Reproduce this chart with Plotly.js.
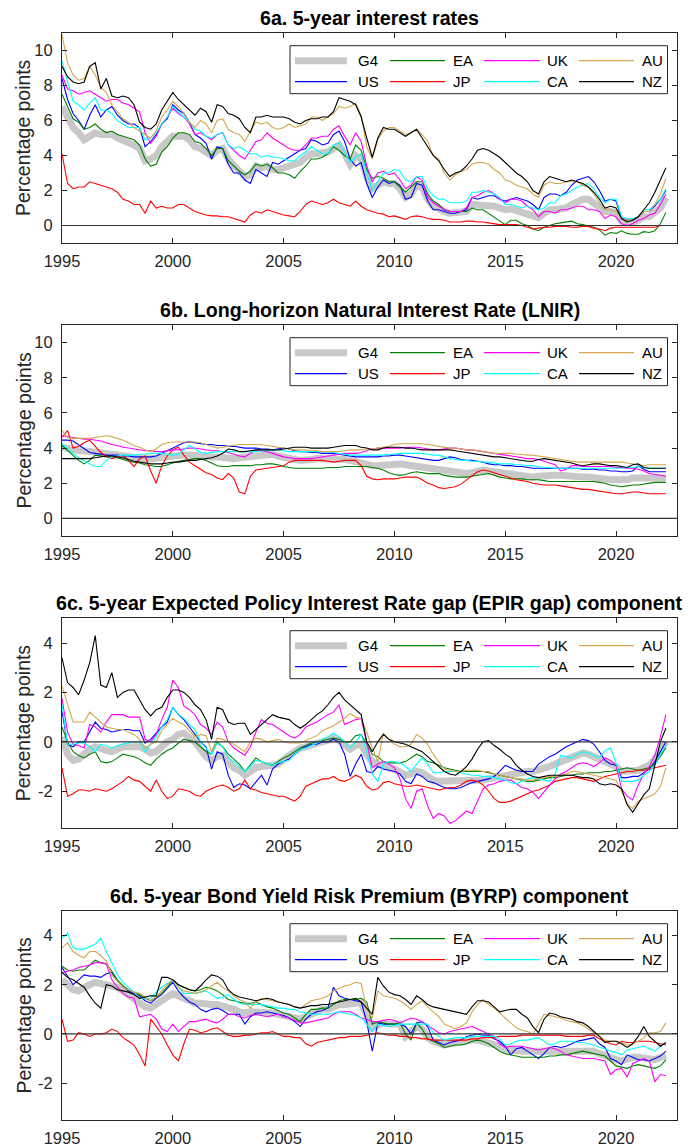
<!DOCTYPE html>
<html><head><meta charset="utf-8">
<script src="https://cdn.plot.ly/plotly-3.0.1.min.js"></script>
<style>html,body{margin:0;padding:0;background:#fff}#chart{width:688px;height:1146px}</style>
</head><body><div id="chart"></div>
<script>
// Quarterly observations starting 1995Q1
const startYear = 1995;
const seriesNames = ['G4','US','EA','JP','UK','CA','AU','NZ'];
const legendRows = [['G4','EA','UK','AU'],['US','JP','CA','NZ']];
const panelTitles = ['6a. 5-year interest rates','6b. Long-horizon Natural Interest Rate (LNIR)','6c. 5-year Expected Policy Interest Rate gap (EPIR gap) component','6d. 5-year Bond Yield Risk Premium (BYRP) component'];
const yTickA = [0,2,4,6,8,10];
const yTickC = [-2,0,2,4];
const xTicks = [1995,2000,2005,2010,2015,2020];

// ---- 6a. 5-year interest rates ----
const a_G4 = [6.8,6.2,5.6,5.3, 4.9,5.1,5.3,5.2, 5.2,5.2,5.0,4.9, 4.7,4.6,4.4,3.7, 3.8,4.0,4.5,4.8, 5.1,5.1,5.1,4.9, 4.5,4.4,4.2,4.0, 4.3,4.4,3.8,3.4, 3.1,2.8,2.9,3.4, 3.3,3.4,3.2,3.2, 3.3,3.3,3.4,3.6, 3.9,4.1,4.1,4.1, 4.2,4.4,4.6,4.1, 3.5,4.0,3.8,2.8, 2.1,2.3,2.5,2.4, 2.4,2.1,1.6,1.8, 2.3,2.2,1.5,1.1, 0.9,0.8,0.7,0.7, 0.7,0.8,1.2,1.2, 1.2,1.2,1.1,1.0, 0.9,0.95,0.9,0.75, 0.65,0.55,0.45,0.7, 0.9,0.9,0.95,1.0, 1.2,1.4,1.5,1.5, 1.3,1.0,0.8,0.8, 0.7,0.25,0.2,0.2, 0.3,0.5,0.5,0.7, 1.0,1.6];
const a_US = [8.4,7.2,6.4,6.0, 5.5,6.3,6.9,6.2, 6.6,6.8,6.3,6.0, 5.8,5.8,5.6,4.5, 4.8,5.2,5.8,6.1, 6.9,6.6,6.4,5.9, 5.2,5.0,4.7,3.8, 4.5,4.4,3.5,3.0, 3.0,2.6,2.4,3.2, 3.0,2.8,3.6,3.5, 3.7,3.9,4.1,4.3, 4.4,4.9,4.8,4.6, 4.7,5.2,5.4,4.8, 3.8,3.4,3.6,2.4, 1.6,2.2,2.6,2.4, 2.5,2.3,1.5,1.6, 2.4,2.3,1.4,0.9, 0.9,0.8,0.7,0.7, 0.8,0.9,1.6,1.5, 1.6,1.7,1.7,1.5, 1.4,1.5,1.6,1.5, 1.4,1.2,0.9,1.6, 1.8,1.8,1.7,1.9, 2.3,2.6,2.7,2.8, 2.5,2.0,1.4,1.5, 1.4,0.4,0.3,0.3, 0.5,0.8,0.8,1.1, 1.5,2.0];
const a_EA = [7.5,6.8,6.1,5.9, 5.5,5.6,5.8,5.5, 5.3,5.4,5.2,5.1, 5.0,4.9,4.6,3.8, 3.4,3.5,4.2,4.5, 5.0,5.3,5.3,5.2, 4.8,4.7,4.4,4.0, 4.4,4.4,3.7,3.4, 3.1,2.9,3.1,3.5, 3.4,3.5,3.3,3.0, 3.0,2.9,2.7,3.1, 3.4,3.8,3.8,3.9, 4.1,4.5,4.3,4.0, 3.8,4.6,4.3,3.2, 2.7,2.8,2.7,2.5, 2.5,2.2,1.9,2.2, 2.5,2.5,1.8,1.4, 1.2,0.9,0.8,0.8, 0.8,0.8,1.0,0.9, 0.9,0.7,0.45,0.3, 0.05,0.3,0.3,0.1, 0.0,-0.2,-0.3,-0.1, 0.0,0.1,0.15,0.2, 0.25,0.1,0.05,-0.05, -0.1,-0.25,-0.55,-0.4, -0.45,-0.3,-0.45,-0.5, -0.5,-0.35,-0.4,-0.3, 0.1,0.75];
const a_JP = [4.1,2.4,2.1,2.2, 2.2,2.5,2.4,2.3, 2.2,2.1,1.9,1.5, 1.4,1.2,1.2,0.7, 1.4,1.0,1.1,1.0, 1.0,1.2,1.2,1.0, 0.8,0.7,0.6,0.55, 0.55,0.5,0.5,0.4, 0.3,0.2,0.6,0.8, 0.7,0.9,0.8,0.7, 0.6,0.55,0.5,0.8, 1.2,1.4,1.3,1.2, 1.3,1.5,1.3,1.2, 1.1,1.4,1.1,0.9, 0.8,0.7,0.65,0.5, 0.55,0.45,0.35,0.5, 0.55,0.5,0.4,0.35, 0.35,0.3,0.2,0.2, 0.2,0.25,0.25,0.2, 0.2,0.15,0.1,0.05, 0.05,0.05,0.05,0.0, -0.1,-0.2,-0.15,-0.1, -0.1,-0.05,-0.05,-0.05, -0.1,-0.1,-0.05,-0.05, -0.15,-0.2,-0.3,-0.15, -0.1,-0.1,-0.1,-0.1, -0.1,-0.1,-0.1,-0.1, 0.0,0.0];
const a_UK = [8.6,7.8,7.7,7.5, 7.6,7.7,7.5,7.3, 7.1,7.2,7.2,7.0, 6.9,6.7,6.5,5.3, 4.7,5.1,5.8,6.2, 6.7,6.4,6.2,5.8, 5.2,5.3,5.1,4.9, 5.2,5.3,4.6,4.3, 4.0,3.8,4.3,4.8, 4.9,5.3,5.0,4.8, 4.6,4.4,4.3,4.3, 4.6,5.0,5.0,5.1, 5.1,5.5,5.7,5.1, 4.6,5.3,4.8,3.4, 2.5,3.0,3.1,2.9, 3.0,2.6,2.1,2.3, 2.8,2.6,1.6,1.3, 1.1,0.9,0.8,0.8, 0.8,1.0,1.6,1.7, 1.9,2.0,1.8,1.5, 1.3,1.5,1.5,1.4, 1.1,0.9,0.5,0.8, 0.8,0.7,0.9,0.9, 1.0,1.1,1.1,0.9, 0.9,0.8,0.4,0.6, 0.5,0.1,0.0,0.1, 0.3,0.4,0.6,0.7, 1.2,1.8];
const a_CA = [9.4,8.2,7.1,6.9, 6.6,7.0,7.3,6.6, 6.6,6.4,6.0,5.8, 5.6,5.6,5.6,4.9, 5.0,5.3,5.8,6.2, 6.8,6.5,6.2,5.9, 5.5,5.4,5.1,5.0, 5.2,5.3,4.6,4.4, 4.5,4.3,4.1,4.1, 3.9,4.0,3.9,3.9, 3.8,3.7,3.7,4.0, 4.2,4.5,4.3,4.1, 4.1,4.6,4.7,4.2, 3.6,3.9,4.1,3.0, 2.0,2.5,3.0,3.0, 3.2,3.1,2.6,2.5, 2.8,2.8,2.1,1.7, 1.5,1.5,1.3,1.3, 1.3,1.4,1.9,1.9, 2.0,1.9,1.8,1.6, 1.2,1.2,1.1,1.0, 1.1,1.0,0.9,1.0, 1.3,1.3,1.7,1.8, 2.0,2.2,2.3,2.4, 2.1,1.6,1.3,1.5, 1.5,0.5,0.4,0.4, 0.5,0.9,0.9,1.2, 1.5,2.1];
const a_AU = [10.9,9.3,8.6,8.3, 8.4,9.1,8.6,7.9, 7.6,6.9,6.5,6.1, 5.9,5.6,5.4,5.2, 5.0,5.4,6.2,6.6, 7.1,6.8,6.4,5.9, 5.6,6.0,5.8,5.3, 6.0,6.1,5.5,5.3, 5.2,4.8,5.4,5.9, 5.8,5.9,5.6,5.5, 5.6,5.8,5.6,5.7, 5.8,6.2,6.2,6.0, 6.2,6.4,6.8,6.7, 6.8,7.0,6.3,4.5, 3.8,4.9,5.4,5.6, 5.6,5.4,5.2,5.3, 5.5,5.2,4.8,4.0, 3.8,3.0,2.6,2.9, 3.1,3.2,3.5,3.6, 3.6,3.5,3.2,3.0, 2.6,2.5,2.3,2.2, 2.1,1.8,1.6,2.3, 2.5,2.4,2.4,2.5, 2.5,2.5,2.3,2.2, 1.8,1.3,0.9,0.9, 0.8,0.4,0.3,0.3, 0.5,0.8,0.8,1.2, 1.8,2.7];
const a_NZ = [9.1,8.5,8.2,8.1, 8.2,9.1,9.3,7.8, 8.4,7.4,7.3,7.4, 7.3,6.9,5.9,5.6, 5.5,5.8,6.6,7.1, 7.6,7.2,6.9,6.6, 6.3,6.7,6.5,5.9, 6.9,6.8,6.4,6.3, 6.1,5.6,5.3,6.2, 6.2,6.3,6.2,6.2, 6.2,6.1,5.9,5.8, 6.0,6.1,6.1,6.2, 6.2,6.5,7.3,7.2, 7.1,6.9,6.2,5.0, 3.9,5.0,5.6,5.5, 5.5,5.3,5.1,5.3, 5.5,5.0,4.5,4.0, 3.7,3.2,2.8,3.0, 3.1,3.4,3.8,4.3, 4.4,4.3,4.1,3.9, 3.6,3.3,3.0,2.8, 2.5,2.0,1.8,2.5, 2.8,2.7,2.6,2.5, 2.6,2.5,2.4,2.2, 1.9,1.5,1.0,1.1, 1.0,0.4,0.2,0.3, 0.5,0.9,1.3,1.9, 2.6,3.3];

// ---- 6b. LNIR ----
const b_G4 = [4.05,3.95,3.9,3.85, 3.85,3.8,3.75,3.7, 3.65,3.6,3.6,3.55, 3.5,3.45,3.45,3.4, 3.4,3.45,3.5,3.5, 3.55,3.6,3.6,3.6, 3.55,3.5,3.5,3.5, 3.5,3.45,3.4,3.4, 3.45,3.5,3.55,3.6, 3.65,3.7,3.65,3.55, 3.45,3.4,3.35,3.3, 3.3,3.35,3.4,3.4, 3.4,3.4,3.4,3.35, 3.3,3.2,3.1,3.05, 3.0,3.0,3.05,3.1, 3.1,3.1,3.05,3.0, 2.95,2.9,2.85,2.85, 2.8,2.75,2.7,2.65, 2.6,2.55,2.6,2.7, 2.75,2.7,2.65,2.6, 2.55,2.5,2.45,2.4, 2.35,2.35,2.4,2.45, 2.45,2.45,2.45,2.4, 2.4,2.4,2.35,2.35, 2.35,2.3,2.25,2.2, 2.2,2.15,2.2,2.3, 2.35,2.3,2.3,2.3, 2.3,2.3];
const b_US = [4.45,4.45,4.4,4.2, 3.95,3.75,3.7,3.65, 3.6,3.6,3.6,3.55, 3.55,3.5,3.5,3.5, 3.5,3.55,3.7,3.85, 4.0,4.15,4.3,4.35, 4.3,4.25,4.2,4.2, 4.15,4.15,4.1,4.1, 4.05,4.0,4.0,4.0, 3.95,3.95,3.9,3.95, 4.0,3.95,3.85,3.8, 3.8,3.75,3.75,3.7, 3.7,3.7,3.65,3.6, 3.55,3.5,3.5,3.5, 3.5,3.5,3.55,3.55, 3.6,3.6,3.55,3.5, 3.45,3.4,3.35,3.3, 3.3,3.4,3.5,3.45, 3.35,3.3,3.3,3.25, 3.2,3.1,3.05,3.05, 3.0,3.0,2.95,2.95, 2.9,2.85,2.85,2.85, 2.85,2.85,2.85,2.85, 2.85,2.85,2.8,2.8, 2.8,2.75,2.75,2.7, 2.7,2.65,2.65,2.7, 3.0,2.8,2.65,2.65, 2.65,2.65];
const b_EA = [4.15,3.85,3.55,3.3, 3.1,3.3,3.6,3.55, 3.5,3.5,3.45,3.35, 3.25,3.2,3.15,3.05, 3.0,2.95,2.95,3.05, 3.15,3.25,3.3,3.35, 3.4,3.4,3.3,3.15, 3.0,2.95,2.95,3.0, 3.0,3.0,3.0,3.05, 3.05,3.1,3.1,3.05, 2.95,2.9,2.85,2.85, 2.85,2.85,2.85,2.85, 2.9,2.9,2.9,2.95, 2.95,2.95,2.95,2.95, 2.9,2.85,2.75,2.6, 2.5,2.45,2.5,2.6, 2.65,2.6,2.55,2.55, 2.55,2.45,2.4,2.35, 2.35,2.35,2.4,2.45, 2.5,2.55,2.45,2.35, 2.3,2.25,2.25,2.25, 2.2,2.2,2.2,2.15, 2.1,2.1,2.1,2.1, 2.1,2.1,2.1,2.1, 2.1,2.05,2.0,1.9, 1.85,1.8,1.85,1.9, 1.9,1.95,2.0,2.05, 2.05,2.05];
const b_JP = [4.6,5.0,4.0,4.1, 4.3,4.45,4.1,3.75, 3.55,3.4,3.5,3.6, 3.3,2.95,3.4,3.55, 2.7,2.0,3.0,3.55, 3.9,4.05,3.6,3.2, 3.0,2.8,2.6,2.5, 2.3,2.2,2.55,2.3, 1.5,1.4,2.4,2.75, 2.8,2.85,2.9,2.95, 3.0,3.2,3.3,3.3, 3.3,3.3,3.3,3.3, 3.25,3.2,3.25,3.3, 3.3,3.3,3.0,2.4, 2.25,2.2,2.25,2.25, 2.25,2.3,2.35,2.35, 2.35,2.2,2.0,1.9, 1.75,1.7,1.75,1.8, 1.95,2.2,2.45,2.65, 2.75,2.7,2.6,2.5, 2.4,2.3,2.2,2.15, 2.1,2.0,1.95,1.9, 1.9,1.9,1.85,1.8, 1.75,1.7,1.65,1.65, 1.6,1.55,1.5,1.45, 1.4,1.4,1.45,1.5, 1.5,1.45,1.4,1.4, 1.4,1.4];
const b_UK = [4.7,4.65,4.6,4.55, 4.5,4.5,4.45,4.4, 4.3,4.2,4.15,4.05, 4.0,3.95,3.9,3.85, 3.85,3.8,3.8,3.85, 3.9,3.9,3.95,4.0, 4.0,3.95,3.9,3.85, 3.85,3.8,3.75,3.65, 3.55,3.5,3.7,3.9, 3.85,3.8,3.7,3.6, 3.5,3.45,3.4,3.4, 3.4,3.4,3.45,3.5, 3.55,3.6,3.65,3.7, 3.7,3.7,3.75,3.85, 3.95,4.0,4.0,4.0, 4.0,4.0,4.05,4.05, 4.05,4.0,3.95,3.9, 3.9,3.95,4.0,4.0, 3.95,3.9,3.9,3.85, 3.8,3.75,3.7,3.65, 3.6,3.55,3.5,3.45, 3.4,3.4,3.35,3.25, 3.15,3.05,2.7,2.8, 3.0,3.0,2.95,2.95, 2.95,2.95,2.95,2.95, 2.9,2.9,2.85,2.85, 2.8,2.7,2.55,2.5, 2.45,2.4];
const b_CA = [4.25,3.95,3.7,3.45, 3.25,3.1,2.95,2.95, 3.3,3.5,3.55,3.6, 3.6,3.6,3.65,3.65, 3.7,3.7,3.7,3.65, 3.6,3.65,3.9,4.15, 3.95,3.75,3.7,3.75, 3.8,3.8,3.8,3.8, 3.8,3.8,3.8,3.8, 3.85,3.85,3.9,3.9, 3.85,3.8,3.8,3.8, 3.8,3.8,3.8,3.8, 3.8,3.75,3.7,3.65, 3.6,3.6,3.6,3.6, 3.6,3.6,3.6,3.65, 3.65,3.7,3.7,3.7, 3.7,3.7,3.65,3.6, 3.6,3.5,3.4,3.35, 3.3,3.3,3.25,3.25, 3.2,3.2,3.15,3.1, 3.1,3.1,3.05,3.05, 3.0,3.0,2.95,2.9, 2.9,2.85,2.85,2.85, 2.85,2.85,2.85,2.85, 2.85,2.85,2.85,2.85, 2.85,2.85,2.9,2.9, 2.95,2.9,2.85,2.85, 2.85,2.85];
const b_AU = [5.0,4.6,4.55,4.55, 4.55,4.55,4.6,4.65, 4.7,4.65,4.55,4.45, 4.3,4.15,4.05,3.9, 3.8,3.95,4.2,4.3, 4.35,4.35,4.35,4.35, 4.35,4.3,4.2,4.1, 4.0,4.05,4.1,4.15, 4.2,4.2,4.2,4.2, 4.2,4.15,4.1,4.05, 4.0,3.95,3.9,3.9, 3.9,3.85,3.85,3.8, 3.8,3.8,3.8,3.85, 3.9,3.9,3.9,3.95, 3.95,4.0,4.05,4.1, 4.2,4.25,4.25,4.25, 4.25,4.25,4.2,4.15, 4.1,4.05,4.0,4.0, 3.95,3.9,3.9,3.85, 3.8,3.75,3.7,3.7, 3.7,3.7,3.65,3.65, 3.6,3.6,3.55,3.5, 3.45,3.4,3.35,3.3, 3.25,3.2,3.2,3.2, 3.2,3.2,3.2,3.2, 3.2,3.2,3.15,3.1, 3.05,3.0,3.05,3.05, 3.05,3.05];
const b_NZ = [3.4,3.4,3.4,3.4, 3.4,3.4,3.45,3.5, 3.55,3.55,3.5,3.45, 3.35,3.25,3.2,3.15, 3.1,3.1,3.1,3.15, 3.2,3.2,3.25,3.3, 3.3,3.35,3.4,3.45, 3.55,3.7,3.95,3.9, 3.8,3.8,3.85,3.9, 3.9,3.9,3.9,3.9, 3.95,4.0,4.05,4.05, 4.05,4.0,4.0,4.0, 4.0,4.05,4.1,4.15, 4.15,4.15,4.05,4.0, 3.9,3.9,4.0,4.05, 4.05,4.05,4.0,4.0, 3.95,3.9,3.9,3.9, 3.9,3.9,3.9,3.85, 3.8,3.75,3.7,3.65, 3.6,3.55,3.5,3.5, 3.45,3.4,3.35,3.3, 3.25,3.25,3.35,3.4, 3.35,3.3,3.25,3.2, 3.15,3.05,3.0,3.05, 3.1,3.1,3.05,3.0, 3.0,2.95,2.9,3.05, 3.1,2.9,2.85,2.85, 2.85,2.85];

// ---- 6c. EPIR gap component ----
const c_G4 = [0.2,-0.5,-0.75,-0.7, -0.5,-0.3,-0.2,-0.3, -0.35,-0.4,-0.3,-0.2, -0.2,-0.2,-0.2,-0.3, -0.45,-0.4,-0.15,0.0, 0.1,0.3,0.35,0.2, 0.0,-0.3,-0.6,-0.75, -0.6,-0.55,-0.8,-1.05, -1.15,-1.35,-1.2,-1.05, -1.0,-1.0,-0.95,-0.9, -0.7,-0.55,-0.4,-0.25, -0.2,-0.1,-0.05,0.0, 0.1,0.15,0.05,-0.1, -0.3,-0.15,-0.1,-0.5, -0.8,-0.9,-1.0,-1.05, -1.1,-1.2,-1.35,-1.3, -1.2,-1.25,-1.4,-1.55, -1.6,-1.6,-1.6,-1.6, -1.6,-1.55,-1.55,-1.55, -1.55,-1.5,-1.45,-1.4, -1.35,-1.35,-1.3,-1.25, -1.2,-1.2,-1.15,-1.05, -1.0,-0.9,-0.8,-0.7, -0.6,-0.5,-0.45,-0.5, -0.6,-0.7,-0.85,-0.95, -1.0,-1.2,-1.2,-1.15, -1.15,-1.05,-0.95,-0.7, -0.35,0.0];
const c_US = [1.25,-0.1,-0.2,0.0, 0.0,0.4,0.8,0.55, 0.5,0.4,0.45,0.5, 0.5,0.45,0.45,-0.05, 0.1,0.35,0.6,0.8, 1.4,1.1,0.9,0.6, 0.3,0.0,-0.2,-1.1, -0.4,-0.5,-1.35,-1.85, -1.7,-1.75,-1.9,-1.6, -1.35,-1.75,-1.1,-0.9, -0.8,-0.7,-0.5,-0.3, -0.2,-0.1,-0.1,0.0, 0.0,0.1,0.0,-0.5, -1.4,-0.9,-0.5,-1.2, -1.25,-1.0,-1.1,-1.15, -1.2,-1.3,-1.6,-1.7, -1.3,-1.4,-1.6,-1.65, -1.75,-1.85,-1.9,-1.9, -1.85,-1.75,-1.65,-1.6, -1.55,-1.5,-1.4,-1.2, -0.95,-1.05,-1.15,-1.2, -1.2,-1.2,-0.9,-0.75, -0.6,-0.5,-0.35,-0.2, -0.1,0.0,0.1,0.05, -0.1,-0.4,-0.75,-0.9, -0.95,-1.45,-1.45,-1.4, -1.4,-1.25,-1.1,-0.8, -0.4,0.0];
const c_EA = [0.6,0.0,-0.4,-0.55, -0.65,-0.5,-0.4,-0.8, -0.85,-0.8,-0.65,-0.5, -0.55,-0.6,-0.7,-0.85, -0.95,-0.7,-0.5,-0.35, -0.25,-0.05,0.1,0.05, 0.0,-0.2,-0.4,-0.5, 0.0,-0.2,-0.5,-0.7, -0.9,-1.2,-0.9,-0.65, -0.8,-0.9,-0.95,-0.8, -0.65,-0.55,-0.4,-0.25, -0.15,-0.05,0.0,0.05, 0.1,0.15,0.1,0.0, 0.0,0.25,0.3,-0.1, -0.5,-0.6,-0.8,-0.85, -0.85,-0.85,-0.8,-0.65, -0.5,-0.6,-0.8,-0.85, -0.95,-1.05,-1.1,-1.15, -1.2,-1.2,-1.2,-1.2, -1.2,-1.25,-1.3,-1.35, -1.4,-1.45,-1.5,-1.55, -1.6,-1.6,-1.55,-1.5, -1.45,-1.45,-1.4,-1.35, -1.35,-1.3,-1.3,-1.25, -1.25,-1.25,-1.2,-1.2, -1.15,-1.1,-1.05,-1.1, -1.15,-1.1,-1.05,-0.9, -0.6,-0.25];
const c_JP = [-1.05,-2.2,-2.1,-1.95, -1.95,-2.0,-1.9,-1.95, -2.0,-1.9,-1.75,-1.6, -1.4,-1.55,-1.6,-1.8, -2.0,-1.55,-2.0,-2.3, -2.2,-1.9,-1.95,-2.0, -2.15,-2.2,-2.0,-1.9, -1.8,-1.75,-1.85,-2.0, -1.9,-1.55,-1.9,-1.95, -2.05,-2.1,-2.15,-2.2, -2.2,-2.3,-2.4,-2.2, -1.8,-1.7,-1.6,-1.5, -1.5,-1.4,-1.55,-1.6, -1.5,-1.35,-1.45,-1.8, -1.95,-1.9,-1.65,-1.6, -1.7,-1.75,-1.8,-1.8, -1.75,-1.8,-1.85,-1.9, -1.95,-1.9,-1.85,-1.85, -1.75,-1.6,-1.55,-1.6, -1.75,-2.0,-2.3,-2.45, -2.45,-2.4,-2.3,-2.2, -2.1,-2.0,-1.95,-1.85, -1.75,-1.6,-1.55,-1.5, -1.45,-1.45,-1.5,-1.55, -1.6,-1.5,-1.4,-1.35, -1.3,-1.25,-1.2,-1.2, -1.15,-1.15,-1.1,-1.05, -1.0,-0.95];
const c_UK = [1.75,0.4,-0.1,-0.15, -0.25,0.7,0.6,0.4, 0.8,1.1,1.1,1.1, 1.0,1.0,1.0,0.1, 0.0,0.3,0.9,1.4, 2.5,2.2,1.45,1.3, 1.1,0.7,0.55,0.3, 0.8,0.6,0.0,-0.25, -0.4,-0.55,-0.2,0.4, 0.9,0.75,0.7,0.55, 0.4,0.25,0.15,0.3, 0.6,0.7,0.8,0.95, 1.1,1.2,1.5,0.7, 0.8,0.9,0.95,0.0, -1.05,-0.9,-0.8,-0.9, -1.05,-1.5,-2.3,-2.7, -2.0,-1.9,-2.6,-3.1, -2.9,-3.0,-3.3,-3.2, -3.0,-2.8,-2.9,-2.4, -1.9,-1.75,-1.7,-1.6, -1.55,-1.55,-1.7,-1.85, -1.9,-2.05,-2.3,-2.0, -1.75,-1.5,-1.3,-1.2, -1.05,-0.9,-0.85,-0.9, -1.0,-0.85,-0.65,-0.75, -0.95,-1.9,-2.2,-2.35, -1.75,-1.3,-1.0,-0.55, 0.2,1.1];
const c_CA = [1.5,-0.1,-0.1,-0.05, -0.05,-0.2,-0.4,-0.1, -0.15,-0.25,-0.15,-0.1, -0.05,0.0,0.0,-0.4, -0.1,0.2,0.6,0.9, 1.4,1.1,0.95,0.7, 0.5,0.0,-0.25,-0.5, -0.05,-0.2,-0.65,-0.8, -1.0,-1.2,-1.0,-0.75, -0.8,-0.9,-0.95,-0.85, -0.8,-0.75,-0.5,-0.3, -0.25,-0.15,-0.05,0.1, 0.2,0.35,0.2,0.0, -0.25,0.0,0.3,-0.4, -1.3,-1.6,-0.9,-0.8, -0.8,-0.85,-1.0,-1.2, -0.9,-0.65,-0.9,-1.25, -1.25,-1.2,-1.2,-1.2, -1.25,-1.3,-1.35,-1.35, -1.4,-1.4,-1.45,-1.5, -1.55,-1.65,-1.7,-1.6, -1.5,-1.45,-1.5,-1.55, -1.6,-1.3,-0.55,-0.6, -0.65,-0.5,-0.4,-0.45, -0.55,-0.65,-0.35,-0.25, -0.85,-1.6,-1.6,-1.6, -1.55,-1.35,-1.2,-0.95, -0.5,-0.1];
const c_AU = [2.25,1.5,0.8,0.8, 0.8,1.2,1.0,0.8, 0.6,0.55,0.5,0.5, 0.4,0.3,0.1,-0.25, -0.1,0.0,0.45,0.7, 0.95,0.8,0.7,0.45, 0.2,0.3,0.25,-0.4, 0.15,0.1,0.0,-0.1, -0.25,-0.4,0.0,0.15, 0.1,0.0,0.05,0.1, 0.0,-0.05,-0.05,-0.05, 0.05,0.15,0.25,0.45, 0.55,0.65,0.8,0.95, 1.15,1.0,0.95,0.4, -0.25,-0.8,0.35,0.1, -0.1,-0.2,-0.2,-0.1, 0.3,0.15,-0.1,-0.5, -0.8,-1.1,-1.15,-1.2, -1.2,-1.15,-1.15,-1.15, -1.2,-1.2,-1.3,-1.35, -1.4,-1.45,-1.5,-1.5, -1.55,-1.55,-1.5,-1.45, -1.4,-1.4,-1.35,-1.3, -1.2,-1.2,-1.25,-1.3, -1.35,-1.4,-1.45,-1.5, -1.55,-2.0,-2.5,-2.7, -2.4,-2.3,-2.2,-2.1, -1.8,-1.05];
const c_NZ = [3.4,2.4,2.2,1.9, 2.5,3.2,4.3,2.3, 2.2,2.8,1.8,2.0, 2.1,2.1,1.7,1.3, 1.05,1.3,1.4,1.8, 2.1,2.1,2.0,1.8, 1.5,1.3,0.9,0.1, 1.4,1.3,0.8,0.7, 0.75,0.75,0.3,0.5, 0.7,0.9,1.1,1.0, 0.95,0.9,0.7,0.55, 0.7,0.9,1.1,1.25, 1.5,1.8,2.0,1.7, 1.5,1.3,1.1,0.0, -0.4,0.0,0.3,0.1, 0.0,-0.05,-0.1,-0.2, -0.3,-0.4,-0.6,-0.8, -1.0,-1.2,-1.3,-1.35, -1.2,-1.0,-0.7,-0.3, 0.0,0.05,-0.15,-0.3, -0.5,-0.65,-0.95,-1.15, -1.3,-1.4,-1.45,-1.4, -1.35,-1.35,-1.35,-1.35, -1.35,-1.4,-1.45,-1.45, -1.5,-1.7,-1.75,-1.7, -1.75,-1.9,-2.55,-2.85, -2.5,-2.15,-1.9,-0.9, 0.0,0.55];

// ---- 6d. BYRP component ----
const d_G4 = [2.2,2.0,1.8,1.75, 1.9,2.0,2.1,2.05, 2.0,1.95,1.9,1.75, 1.6,1.45,1.25,1.1, 1.05,1.2,1.35,1.5, 1.65,1.55,1.45,1.35, 1.25,1.25,1.2,1.2, 1.2,1.15,1.05,1.0, 0.9,0.85,0.9,0.9, 0.9,0.9,0.85,0.8, 0.75,0.7,0.65,0.6, 0.7,0.8,0.9,1.0, 1.0,1.1,1.2,1.2, 1.25,1.25,1.25,0.8, 0.25,0.35,0.45,0.4, 0.4,0.4,-0.1,0.1, 0.3,0.2,-0.15,-0.3, -0.4,-0.45,-0.4,-0.35, -0.3,-0.3,-0.25,-0.25, -0.3,-0.4,-0.45,-0.5, -0.6,-0.65,-0.65,-0.7, -0.7,-0.7,-0.7,-0.7, -0.7,-0.7,-0.68,-0.65, -0.65,-0.65,-0.65,-0.7, -0.7,-0.8,-0.9,-1.0, -1.05,-1.1,-1.0,-0.95, -0.95,-1.0,-1.05,-1.05, -0.95,-0.9];
const d_US = [2.7,2.35,2.0,2.2, 2.4,2.35,2.35,2.3, 2.45,2.5,2.15,1.95, 1.75,1.65,1.55,1.35, 1.25,1.45,1.6,1.85, 2.1,1.75,1.5,1.3, 1.2,1.0,0.9,1.0, 1.05,0.95,0.8,0.8, 0.8,0.4,0.7,0.85, 0.85,0.9,0.85,0.8, 0.75,0.65,0.5,0.3, 0.6,0.8,0.9,0.95, 1.05,1.9,1.55,1.45, 1.4,1.35,1.3,0.5, -0.7,0.45,0.4,0.4, 0.4,0.4,0.3,0.0, 0.45,0.5,0.3,-0.25, -0.35,-0.45,-0.35,-0.3, -0.25,-0.1,-0.05,0.0, -0.05,-0.05,-0.2,-0.3, -0.5,-0.85,-0.6,-0.55, -0.7,-0.85,-1.0,-0.8, -0.55,-0.5,-0.55,-0.5, -0.4,-0.3,-0.25,-0.2, -0.15,-0.4,-0.55,-1.0, -1.1,-1.25,-0.85,-0.95, -1.05,-1.05,-1.1,-1.0, -0.9,-0.7];
const d_EA = [2.75,2.6,2.55,2.6, 2.6,2.8,3.0,2.9, 2.85,2.55,2.2,1.95, 1.8,1.7,1.6,1.45, 1.35,1.5,1.65,1.9, 2.2,2.0,1.9,1.8, 1.75,1.8,1.9,1.85, 1.75,1.6,1.4,1.35, 1.3,1.25,1.25,1.3, 1.2,1.1,1.05,0.95, 0.85,0.8,0.65,0.5, 0.8,1.0,1.0,1.05, 1.05,1.2,1.35,1.4, 1.4,1.4,1.45,1.3, 0.4,0.5,0.45,0.4, 0.4,0.45,0.0,-0.25, 0.45,0.2,-0.2,-0.3, -0.4,-0.55,-0.5,-0.45, -0.45,-0.4,-0.3,-0.25, -0.3,-0.4,-0.55,-0.7, -0.8,-0.85,-0.9,-0.95, -0.95,-0.95,-0.95,-0.95, -0.9,-0.9,-0.85,-0.85, -0.8,-0.75,-0.7,-0.75, -0.8,-0.85,-0.9,-1.1, -1.3,-1.35,-1.4,-1.3, -1.25,-1.3,-1.35,-1.4, -1.3,-1.05];
const d_JP = [0.6,-0.3,-0.25,0.05, 0.0,-0.1,0.0,0.0, 0.05,0.2,0.1,-0.15, -0.3,-0.45,-0.85,-1.3, 0.6,0.3,0.0,-0.45, -0.85,-1.1,-0.4,0.2, 0.15,0.05,0.1,0.2, 0.25,0.1,-0.05,-0.1, -0.1,-0.05,-0.05,0.0, 0.05,0.05,0.1,0.0, -0.1,-0.1,-0.15,-0.15, -0.4,-0.5,-0.35,-0.3, -0.25,-0.2,-0.15,-0.15, -0.1,-0.1,-0.1,-0.05, 0.0,0.05,0.0,-0.05, -0.05,-0.1,-0.1,-0.15, -0.15,-0.2,-0.2,-0.25, -0.25,-0.25,-0.25,-0.25, -0.25,-0.25,-0.2,-0.2, -0.15,-0.15,-0.15,-0.1, -0.1,-0.1,-0.1,-0.05, -0.05,-0.05,-0.05,-0.05, -0.05,-0.05,-0.05,-0.1, -0.1,-0.1,-0.1,-0.05, -0.05,-0.2,-0.3,-0.4, -0.45,-0.3,-0.35,-0.35, -0.3,-0.3,-0.3,-0.35, -0.4,-0.45];
const d_UK = [2.5,2.55,2.6,2.7, 2.75,2.8,2.9,2.9, 2.85,2.2,1.9,1.65, 1.5,1.45,0.7,0.75, 0.8,0.6,0.2,0.1, 0.4,0.1,0.3,0.5, 0.5,0.55,0.6,0.5, 0.45,0.6,0.8,0.8, 0.7,0.65,0.75,0.8, 0.75,0.7,0.75,0.8, 0.7,0.65,0.55,0.45, 0.45,0.5,0.55,0.6, 0.65,0.8,0.9,0.9, 0.9,0.8,0.65,0.6, 0.5,0.5,0.55,0.6, 0.55,0.45,0.55,0.65, 0.6,0.5,0.35,0.2, 0.05,0.0,0.1,0.15, 0.2,0.25,0.3,0.2, 0.1,0.0,-0.1,-0.4, -0.55,-0.5,-0.5,-0.5, -0.55,-0.6,-0.65,-0.6, -0.55,-0.6,-0.7,-0.85, -0.9,-0.95,-1.0,-1.0, -1.0,-1.05,-1.1,-1.65, -1.45,-1.4,-1.75,-1.2, -1.1,-1.0,-1.1,-1.95, -1.65,-1.7];
const d_CA = [3.9,4.1,3.5,3.45, 3.45,3.55,3.65,3.9, 3.35,2.9,2.4,2.1, 1.9,1.7,1.45,1.45, 1.45,1.7,1.9,2.05, 2.2,1.9,1.65,1.65, 1.65,1.7,1.75,1.6, 1.45,1.5,1.6,1.4, 1.25,1.2,1.2,1.2, 1.2,1.15,1.1,1.05, 1.05,1.0,1.0,0.9, 0.85,0.8,0.8,0.8, 0.8,0.85,0.9,0.85, 0.8,0.75,0.65,0.4, 0.1,0.4,0.35,0.3, 0.35,0.4,0.4,0.4, 0.4,0.4,0.4,0.05, -0.1,-0.25,-0.2,-0.15, -0.15,-0.15,-0.1,-0.1, -0.1,-0.1,-0.1,-0.2, -0.45,-0.4,-0.3,-0.25, -0.25,-0.2,-0.15,-0.3, -0.45,-0.4,-0.3,-0.3, -0.3,-0.35,-0.35,-0.4, -0.45,-0.55,-0.6,-0.7, -0.75,-0.85,-0.65,-0.6, -0.55,-0.5,-0.6,-0.7, -0.5,-0.35];
const d_AU = [3.5,3.7,3.35,3.2, 3.1,3.35,3.35,3.2, 2.95,2.4,2.15,1.9, 1.8,1.7,1.65,1.5, 1.35,1.5,1.75,2.0, 2.2,1.9,1.75,1.7, 1.65,1.7,1.8,1.95, 2.1,1.9,1.75,1.55, 1.4,1.3,1.05,1.3, 1.45,1.4,1.35,1.3, 1.25,1.2,1.1,1.05, 1.2,1.35,1.4,1.45, 1.55,1.75,1.85,1.95, 2.0,2.1,2.05,1.0, 0.65,1.75,1.55,1.5, 1.45,1.35,1.2,1.0, 1.2,1.35,1.1,0.9, 0.7,0.4,0.3,0.2, 0.3,0.45,0.9,1.2, 1.4,1.2,1.05,0.85, 0.65,0.45,0.25,0.15, 0.1,0.0,0.4,0.8, 0.75,0.7,0.65,0.55, 0.5,0.45,0.35,0.2, 0.05,-0.1,-0.25,-0.3, -0.3,-0.35,-0.45,-0.4, -0.3,-0.15,0.05,0.05, 0.1,0.45];
const d_NZ = [2.5,2.3,2.2,2.05, 1.9,1.55,1.25,1.05, 2.0,1.95,1.8,1.75, 1.7,1.6,1.45,1.5, 1.55,1.55,2.3,2.3, 2.2,2.0,1.9,1.8, 1.75,1.95,2.2,2.4, 2.35,2.2,1.8,1.6, 1.5,1.45,1.4,1.35, 1.4,1.45,1.4,1.3, 1.25,1.2,1.1,1.05, 1.1,1.15,1.15,1.2, 1.2,1.25,1.3,1.35, 1.4,1.45,1.3,1.05, 0.8,2.3,1.95,1.7, 1.6,1.55,1.4,1.2, 1.55,1.4,1.2,1.1, 1.05,1.0,0.95,0.9, 0.85,0.8,1.1,1.35, 1.35,1.3,1.1,0.9, 0.95,1.0,1.0,0.8, 0.65,0.3,0.05,0.6, 0.85,0.8,0.7,0.65, 0.6,0.5,0.45,0.3, 0.1,-0.1,-0.35,-0.3, -0.3,-0.4,-0.55,-0.4, -0.1,0.3,-0.1,-0.3, -0.5,-0.35];

const panels = [
  {G4:a_G4, US:a_US, EA:a_EA, JP:a_JP, UK:a_UK, CA:a_CA, AU:a_AU, NZ:a_NZ},
  {G4:b_G4, US:b_US, EA:b_EA, JP:b_JP, UK:b_UK, CA:b_CA, AU:b_AU, NZ:b_NZ},
  {G4:c_G4, US:c_US, EA:c_EA, JP:c_JP, UK:c_UK, CA:c_CA, AU:c_AU, NZ:c_NZ},
  {G4:d_G4, US:d_US, EA:d_EA, JP:d_JP, UK:d_UK, CA:d_CA, AU:d_AU, NZ:d_NZ}
];

const colors = {G4:'#c8c8c8', US:'#0000ff', EA:'#008000', JP:'#ff0000', UK:'#ff00ff', CA:'#00ffff', AU:'#d4a74e', NZ:'#000000'};
const widths = {G4:7, US:1.1, EA:1.1, JP:1.1, UK:1.1, CA:1.1, AU:1.1, NZ:1.1};

const FONT = 'Liberation Sans, Arial, Helvetica, sans-serif';
const AX = '#262626';
const W = 688, H = 1146;
const M = {l:62, r:11, t:33, b:26};
const plotW = W - M.l - M.r, plotH = H - M.t - M.b;
const pxTop = [33, 325, 618.3, 911];
const pxBot = [243, 536, 828.3, 1120];
const yRanges = [[-1,11],[-1,11],[-3.5,5],[-3.5,5]];
// legend box geometry (pixels)
const legTop = [45.7, 337.7, 630.7, 923.7];
const legBox = {left:290, right:667.5, height:48};
const legRowOff = [15, 36];
const legLineX0 = [295, 390, 484, 579];
const legLineX1 = [347, 445, 540, 634];
const legTextX = [357, 451.5, 545.5, 640.5];

const px2x = px => (px - M.l) / plotW;
const px2y = py => (H - M.b - py) / plotH;

const traces = [];
const layout = {
  width: W, height: H, margin: M, paper_bgcolor:'#fff', plot_bgcolor:'#fff',
  font: {family: FONT, color: AX, size: 16.5},
  showlegend: false, annotations: [], shapes: []
};

panels.forEach((p, k) => {
  const sfx = k === 0 ? '' : String(k + 1);
  seriesNames.forEach(name => {
    const ys = p[name];
    const xs = ys.map((_, i) => startYear + i / 4);
    traces.push({
      type: 'scatter', mode: 'lines', name: name, x: xs, y: ys,
      xaxis: 'x' + sfx, yaxis: 'y' + sfx, showlegend: false,
      line: {color: colors[name], width: widths[name]}, hoverinfo: 'skip'
    });
  });
  const dom = [px2y(pxBot[k]), px2y(pxTop[k])];
  const isC = k >= 2;
  layout['xaxis' + sfx] = {
    domain: [0, 1], anchor: 'y' + sfx, range: [1995, 2022.75],
    tickvals: xTicks, ticktext: xTicks.map(String),
    ticks: 'inside', ticklen: 5, tickwidth: 1, tickcolor: AX, ticklabelstandoff: 3,
    showline: true, linecolor: AX, linewidth: 1, mirror: 'ticks',
    showgrid: false, zeroline: false,
    tickfont: {family: FONT, size: 16.5, color: AX}
  };
  const yt = isC ? yTickC : yTickA;
  layout['yaxis' + sfx] = {
    domain: dom, anchor: 'x' + sfx, range: yRanges[k],
    tickvals: yt, ticktext: yt.map(v => v < 0 ? '-' + Math.abs(v) : String(v)),
    ticks: 'inside', ticklen: 5, tickwidth: 1, tickcolor: AX, ticklabelstandoff: 5,
    showline: true, linecolor: AX, linewidth: 1, mirror: 'ticks',
    showgrid: false, zeroline: false,
    tickfont: {family: FONT, size: 16.5, color: AX}
  };
  // zero reference line
  layout.shapes.push({
    type: 'line', xref: 'x' + sfx + ' domain', yref: 'y' + sfx,
    x0: 0, x1: 1, y0: 0, y1: 0, line: {color: '#333333', width: 1.2}, layer: 'above'
  });
  // legend box
  const T = legTop[k];
  layout.shapes.push({
    type: 'rect', xref: 'paper', yref: 'paper', layer: 'above',
    x0: px2x(legBox.left), x1: px2x(legBox.right), y0: px2y(T + legBox.height), y1: px2y(T),
    line: {color: AX, width: 1}, fillcolor: '#ffffff'
  });
  legendRows.forEach((row, r) => {
    const yy = px2y(T + legRowOff[r]);
    row.forEach((name, c) => {
      layout.shapes.push({
        type: 'line', xref: 'paper', yref: 'paper', layer: 'above',
        x0: px2x(legLineX0[c]), x1: px2x(legLineX1[c]), y0: yy, y1: yy,
        line: {color: colors[name], width: name === 'G4' ? 7 : 1.2}
      });
      layout.annotations.push({
        text: name, xref: 'paper', yref: 'paper', x: px2x(legTextX[c] - 1), y: yy,
        xanchor: 'left', yanchor: 'middle', showarrow: false,
        font: {family: FONT, size: 15, color: '#000'}
      });
    });
  });
  // panel title
  layout.annotations.push({
    text: '<b>' + panelTitles[k] + '</b>', xref: 'paper', yref: 'paper',
    x: 0.5, y: dom[1], xanchor: 'center', yanchor: 'bottom', yshift: 2,
    showarrow: false, font: {family: FONT, size: 19.6, color: '#000'}
  });
  // y-axis title
  layout.annotations.push({
    text: 'Percentage points', xref: 'paper', yref: 'paper', textangle: -90,
    x: px2x(23), y: (dom[0] + dom[1]) / 2,
    xanchor: 'center', yanchor: 'middle', showarrow: false,
    font: {family: FONT, size: 19.4, color: AX}
  });
});

Plotly.newPlot('chart', traces, layout, {staticPlot: true, displayModeBar: false});
</script></body></html>
